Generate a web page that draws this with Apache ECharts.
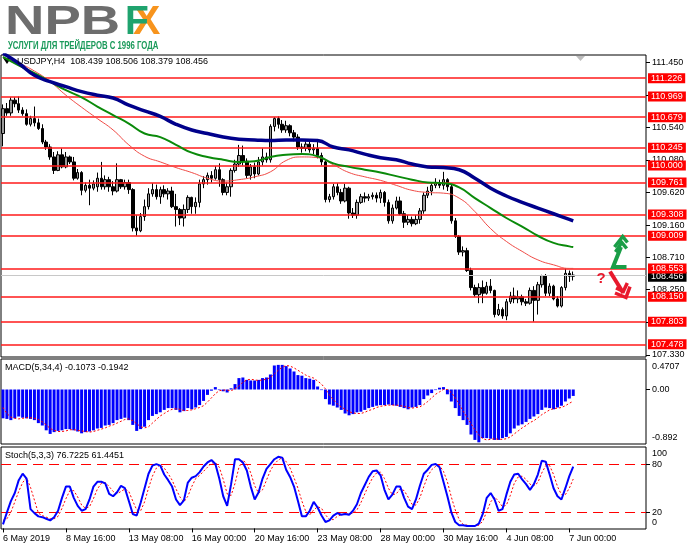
<!DOCTYPE html>
<html><head><meta charset="utf-8">
<script src="https://cdn.jsdelivr.net/npm/echarts@6/dist/echarts.min.js"></script>
<style>html,body{margin:0;padding:0;background:#fff}#c{width:691px;height:549px}</style>
</head><body><div id="c"></div>
<script>
// ---------- DATA ----------
const tickIdx = [0,16,32,48,64,80,96,112,128,144];
const tickLabels = ["6 May 2019","8 May 16:00","13 May 08:00","16 May 00:00","20 May 16:00","23 May 08:00","28 May 00:00","30 May 16:00","4 Jun 08:00","7 Jun 00:00"];
const priceTicks = [111.45,110.99,110.54,110.08,109.62,109.16,108.71,108.25,107.79,107.33];
const macdTicks = [0.4707,0,-0.892];
const stochTicks = [100,80,20,0];
const levels = [111.226,110.969,110.679,110.245,110.000,109.761,109.308,109.009,108.553,108.150,107.803,107.478];
const lastPrice = 108.456;
const stochLevels = [80,20];

// [open, high, low, close]
const ohlc = [
[110.45,110.86,110.27,110.80],[110.80,110.88,110.70,110.74],[110.74,110.96,110.70,110.92],[110.92,110.96,110.82,110.87],
[110.87,110.97,110.74,110.78],[110.78,110.82,110.70,110.73],[110.73,110.79,110.56,110.58],[110.58,110.70,110.55,110.66],
[110.66,110.83,110.55,110.60],[110.60,110.66,110.50,110.52],[110.52,110.58,110.30,110.33],[110.33,110.36,110.22,110.26],
[110.26,110.30,110.08,110.12],[110.12,110.19,109.88,109.93],[109.93,110.20,109.92,110.15],[110.15,110.24,109.96,109.98],
[109.98,110.19,109.96,110.12],[110.12,110.14,110.02,110.05],[110.05,110.12,109.79,109.82],[109.82,109.95,109.80,109.90],
[109.90,109.92,109.58,109.65],[109.65,109.76,109.62,109.72],[109.72,109.80,109.44,109.68],[109.68,109.79,109.65,109.74],
[109.70,109.90,109.63,109.82],[109.82,110.05,109.66,109.70],[109.70,109.86,109.66,109.80],[109.80,109.84,109.63,109.70],
[109.70,109.78,109.58,109.64],[109.64,110.03,109.62,109.80],[109.80,109.81,109.67,109.70],[109.70,109.80,109.66,109.76],
[109.76,109.80,109.60,109.66],[109.66,109.68,109.07,109.12],[109.12,109.30,109.01,109.08],[109.08,109.33,109.06,109.28],
[109.28,109.52,109.22,109.42],[109.42,109.68,109.38,109.60],[109.60,109.75,109.56,109.66],[109.66,109.73,109.52,109.56],
[109.56,109.70,109.46,109.66],[109.66,109.72,109.55,109.60],[109.60,109.68,109.52,109.64],[109.64,109.70,109.40,109.42],
[109.42,109.60,109.14,109.38],[109.38,109.40,109.16,109.26],[109.26,109.45,109.14,109.38],[109.38,109.58,109.33,109.55],
[109.55,109.56,109.32,109.42],[109.42,109.55,109.32,109.48],[109.48,109.80,109.41,109.74],[109.74,109.85,109.68,109.80],
[109.80,109.90,109.73,109.86],[109.86,109.92,109.76,109.82],[109.82,109.99,109.80,109.94],[109.94,110.03,109.70,109.80],
[109.80,109.82,109.58,109.62],[109.62,109.76,109.58,109.70],[109.70,109.96,109.56,109.93],[109.93,110.08,109.90,110.02],
[110.02,110.29,109.98,110.14],[110.14,110.28,110.00,110.06],[110.06,110.10,109.82,109.86],[109.86,110.02,109.80,109.98],
[109.98,110.04,109.82,109.88],[109.88,110.12,109.86,110.05],[110.05,110.24,110.00,110.12],[110.12,110.18,110.04,110.08],
[110.08,110.58,110.04,110.55],[110.55,110.68,110.48,110.66],[110.66,110.69,110.52,110.58],[110.58,110.64,110.46,110.50],
[110.50,110.63,110.46,110.56],[110.56,110.58,110.41,110.46],[110.46,110.50,110.34,110.40],[110.40,110.44,110.22,110.26],
[110.26,110.31,110.18,110.24],[110.24,110.34,110.20,110.30],[110.30,110.34,110.18,110.22],[110.22,110.30,110.16,110.24],
[110.24,110.33,110.10,110.14],[110.14,110.18,110.00,110.05],[110.05,110.07,109.48,109.52],[109.52,109.60,109.48,109.56],
[109.56,109.74,109.52,109.70],[109.70,109.75,109.58,109.62],[109.62,109.67,109.46,109.50],[109.50,109.74,109.48,109.68],
[109.68,109.70,109.25,109.33],[109.33,109.40,109.26,109.30],[109.30,109.52,109.25,109.48],[109.48,109.60,109.46,109.56],
[109.56,109.62,109.48,109.54],[109.54,109.60,109.50,109.56],[109.56,109.62,109.52,109.58],[109.58,109.62,109.48,109.54],
[109.54,109.66,109.47,109.62],[109.62,109.64,109.42,109.48],[109.48,109.52,109.18,109.22],[109.22,109.45,109.18,109.40],
[109.40,109.56,109.38,109.50],[109.50,109.56,109.30,109.32],[109.32,109.36,109.12,109.20],[109.20,109.30,109.16,109.24],
[109.24,109.28,109.14,109.18],[109.18,109.30,109.16,109.24],[109.24,109.40,109.18,109.36],[109.36,109.62,109.32,109.58],
[109.58,109.70,109.54,109.64],[109.64,109.76,109.58,109.72],[109.72,109.82,109.68,109.76],[109.76,109.80,109.68,109.72],
[109.72,109.91,109.66,109.80],[109.80,109.82,109.64,109.70],[109.70,109.74,109.18,109.22],[109.22,109.26,108.98,109.00],
[109.00,109.02,108.74,108.78],[108.78,108.86,108.72,108.80],[108.80,108.84,108.50,108.52],[108.52,108.56,108.24,108.28],
[108.28,108.32,108.15,108.18],[108.18,108.34,108.06,108.28],[108.28,108.38,108.06,108.20],[108.20,108.36,108.18,108.30],
[108.30,108.40,108.20,108.24],[108.24,108.25,107.86,107.90],[107.90,108.05,107.88,107.97],[107.97,108.00,107.84,107.88],
[107.88,108.12,107.82,108.08],[108.08,108.22,108.05,108.16],[108.16,108.28,108.06,108.12],[108.12,108.24,108.06,108.15],
[108.15,108.18,108.03,108.08],[108.08,108.12,108.02,108.06],[108.06,108.28,108.04,108.24],[108.24,108.30,107.80,108.10],
[108.10,108.36,107.90,108.32],[108.32,108.46,108.28,108.45],[108.45,108.47,108.16,108.20],[108.20,108.34,108.16,108.30],
[108.30,108.32,108.10,108.12],[108.12,108.16,108.00,108.02],[108.02,108.30,108.00,108.28],[108.28,108.55,108.24,108.48],
[108.48,108.52,108.36,108.44],[108.439,108.506,108.379,108.456]
];

// moving averages read at every 4th bar
const maIdx   = [0,4,8,12,16,20,24,28,32,36,40,44,48,52,56,60,64,68,72,76,80,84,88,92,96,100,104,108,112,116,120,124,128,132,136,140,144,145];
const maBlue  = [111.58,111.44,111.27,111.18,111.11,111.04,110.99,110.95,110.85,110.77,110.69,110.58,110.50,110.45,110.40,110.37,110.36,110.35,110.36,110.36,110.35,110.26,110.22,110.16,110.11,110.08,110.02,109.98,109.97,109.94,109.82,109.68,109.57,109.48,109.40,109.32,109.24,109.22];
const maGreen = [111.53,111.41,111.30,111.18,111.06,110.96,110.83,110.71,110.59,110.45,110.40,110.29,110.18,110.12,110.08,110.05,110.06,110.12,110.15,110.16,110.13,110.03,109.98,109.94,109.90,109.85,109.80,109.76,109.75,109.69,109.54,109.40,109.26,109.14,109.01,108.91,108.86,108.85];
const maRed   = [111.52,111.44,111.33,111.18,110.99,110.82,110.66,110.50,110.29,110.13,110.05,109.97,109.90,109.82,109.78,109.80,109.84,109.91,110.07,110.12,110.11,110.01,109.90,109.84,109.79,109.72,109.65,109.62,109.61,109.54,109.35,109.11,108.93,108.79,108.67,108.60,108.55,108.55];

const macdHist = [
-0.48,-0.49,-0.51,-0.48,-0.45,-0.47,-0.48,-0.49,-0.51,-0.56,-0.60,-0.68,-0.74,-0.71,-0.69,-0.68,-0.66,-0.66,-0.68,-0.70,
-0.73,-0.71,-0.70,-0.68,-0.65,-0.64,-0.60,-0.59,-0.56,-0.51,-0.49,-0.47,-0.51,-0.59,-0.69,-0.66,-0.62,-0.51,-0.44,-0.41,
-0.38,-0.34,-0.31,-0.31,-0.34,-0.38,-0.36,-0.31,-0.33,-0.30,-0.26,-0.19,-0.09,-0.02,0.04,-0.01,-0.03,-0.05,0.02,0.09,
0.19,0.20,0.16,0.15,0.15,0.16,0.19,0.20,0.25,0.40,0.41,0.41,0.39,0.35,0.30,0.24,0.23,0.19,0.18,0.16,
0.05,-0.01,-0.16,-0.25,-0.27,-0.30,-0.34,-0.40,-0.43,-0.41,-0.38,-0.37,-0.34,-0.31,-0.29,-0.27,-0.26,-0.26,-0.25,-0.26,
-0.27,-0.29,-0.31,-0.33,-0.30,-0.29,-0.26,-0.16,-0.10,-0.06,-0.01,0.03,0.04,-0.08,-0.20,-0.31,-0.44,-0.51,-0.59,-0.75,
-0.84,-0.88,-0.81,-0.81,-0.82,-0.84,-0.84,-0.81,-0.79,-0.73,-0.65,-0.60,-0.58,-0.54,-0.49,-0.45,-0.41,-0.34,-0.30,-0.31,
-0.33,-0.30,-0.27,-0.20,-0.15,-0.1073];
const macdSignal = [
-0.30,-0.40,-0.46,-0.48,-0.49,-0.48,-0.47,-0.47,-0.48,-0.50,-0.54,-0.59,-0.65,-0.68,-0.70,-0.70,-0.69,-0.67,-0.67,-0.68,
-0.69,-0.70,-0.71,-0.70,-0.68,-0.66,-0.64,-0.61,-0.59,-0.56,-0.53,-0.50,-0.49,-0.52,-0.57,-0.62,-0.64,-0.62,-0.56,-0.50,
-0.44,-0.40,-0.36,-0.33,-0.32,-0.33,-0.35,-0.35,-0.34,-0.32,-0.30,-0.27,-0.21,-0.14,-0.07,-0.02,-0.01,-0.01,-0.02,0.01,
0.06,0.12,0.16,0.17,0.16,0.15,0.16,0.17,0.20,0.26,0.32,0.37,0.40,0.39,0.36,0.32,0.28,0.24,0.21,0.19,
0.14,0.09,0.01,-0.09,-0.17,-0.24,-0.29,-0.33,-0.37,-0.39,-0.40,-0.40,-0.38,-0.35,-0.33,-0.30,-0.28,-0.27,-0.26,-0.26,
-0.26,-0.27,-0.28,-0.30,-0.31,-0.30,-0.29,-0.25,-0.20,-0.14,-0.08,-0.04,0.00,0.00,-0.05,-0.14,-0.24,-0.36,-0.46,-0.57,
-0.67,-0.76,-0.82,-0.84,-0.83,-0.82,-0.83,-0.83,-0.82,-0.79,-0.74,-0.69,-0.64,-0.60,-0.55,-0.52,-0.47,-0.42,-0.38,-0.34,
-0.32,-0.31,-0.30,-0.27,-0.23,-0.1942];

const stochK = [
5,20,34,44,60,68,62,24,19,15,14,12,10,14,22,38,52,52,38,28,
22,24,36,52,58,58,56,43,40,45,53,50,34,18,16,32,50,68,78,80,
78,67,60,52,36,29,35,57,63,65,70,77,82,85,80,62,40,28,55,86,
86,82,72,52,36,45,62,74,80,86,89,88,73,64,52,34,15,15,22,33,
26,16,8,10,16,19,17,18,17,22,30,44,54,64,71,72,66,48,36,42,
52,52,38,27,24,36,53,68,73,79,80,76,58,40,20,8,4,4,3,3,
3,6,18,38,44,36,22,24,42,58,67,68,61,55,48,55,67,84,83,67,
50,40,36,50,65,76.7225];
const stochD = [
10,12,20,33,46,57,63,51,35,19,16,14,12,12,15,25,37,47,47,39,
29,25,27,37,49,56,57,52,46,43,46,49,46,34,23,22,33,50,65,75,
79,75,68,60,49,39,33,40,52,62,66,71,76,81,82,76,61,43,41,56,
76,85,80,69,53,44,48,60,72,80,85,88,83,75,63,50,34,21,17,23,
27,25,17,11,11,15,17,18,18,19,23,32,43,54,63,69,70,62,50,42,
43,49,47,39,30,29,38,52,65,73,77,78,71,58,39,23,11,5,4,3,
3,4,9,21,33,39,34,27,29,41,56,64,65,61,55,53,57,69,78,78,
67,52,42,42,50,61.4451];

// ---------- BUILD ----------
const FONT = '"Liberation Sans", Arial, sans-serif';
const NCAT = 164;
const mon = ['Jan','Feb','Mar','Apr','May','Jun','Jul','Aug','Sep','Oct','Nov','Dec'];
const cats = [];
for (let i = 0; i < NCAT; i++) {
  const d = Math.floor(i / 6), h = (i % 6) * 4;
  const off = Math.floor(d / 5) * 7 + (d % 5);
  const dt = new Date(Date.UTC(2019, 4, 6 + off));
  cats.push(dt.getUTCDate() + ' ' + mon[dt.getUTCMonth()] + ' ' + String(h).padStart(2, '0') + ':00');
}
const labelMap = {};
tickIdx.forEach((ix, k) => labelMap[ix] = tickLabels[k]);
const isTick = (ix) => labelMap[ix] !== undefined;

const candleData = ohlc.map(r => [r[0], r[3], r[2], r[1]]);
const pairs = (vals) => vals.map((v, k) => [maIdx[k], v]);

const axLabel = {fontFamily: FONT, fontSize: 9, color: '#000'};
const GREEN = '#1a9e47', RED = '#e8192c';
const boxLabel = (bg, dy) => ({show: true, position: 'end', formatter: '{b}', distance: 2, backgroundColor: bg, color: '#fff',
                           padding: [0, 3, 0, 3], lineHeight: 10, fontSize: 9, fontFamily: FONT, offset: [0, dy]});

const chart = echarts.init(document.getElementById('c'), null, {renderer: 'canvas'});
const option = {
  animation: false,
  backgroundColor: '#fff',
  grid: [
    {left: 1, right: 45, top: 55, height: 302, show: true, borderColor: '#000', borderWidth: 1, backgroundColor: '#fff'},
    {left: 1, right: 45, top: 359, height: 85, show: true, borderColor: '#000', borderWidth: 1, backgroundColor: '#fff'},
    {left: 1, right: 45, top: 447, height: 82, show: true, borderColor: '#000', borderWidth: 1, backgroundColor: '#fff'}
  ],
  xAxis: [0, 1, 2].map(g => ({
    type: 'category', gridIndex: g, data: cats, boundaryGap: true,
    axisLine: {show: false},
    splitLine: {show: false},
    axisTick: g === 2 ? {show: true, alignWithLabel: true, interval: (ix) => isTick(ix), length: 4, lineStyle: {color: '#000'}} : {show: false},
    axisLabel: g === 2 ? Object.assign({show: true, interval: (ix) => isTick(ix), formatter: (v, ix) => labelMap[ix] || '', align: 'left', margin: 5}, axLabel) : {show: false}
  })),
  yAxis: [
    {gridIndex: 0, position: 'right', min: 107.302, max: 111.556, splitLine: {show: false}, axisLine: {show: false},
     axisTick: {show: true, length: 4, customValues: priceTicks, lineStyle: {color: '#000'}},
     axisLabel: Object.assign({customValues: priceTicks, formatter: v => v.toFixed(3), margin: 6}, axLabel)},
    {gridIndex: 1, position: 'right', min: -0.908, max: 0.508, splitLine: {show: false}, axisLine: {show: false},
     axisTick: {show: true, length: 4, customValues: [0], lineStyle: {color: '#000'}},
     axisLabel: Object.assign({customValues: macdTicks, margin: 6,
       formatter: v => v === 0 ? '{m|0.00}' : (v > 0 ? '{t|' + v + '}' : '{b|' + v + '}'),
       rich: {t: {padding: [11, 0, 0, 0], fontSize: 9, fontFamily: FONT, color: '#000'},
              b: {padding: [0, 0, 11, 0], fontSize: 9, fontFamily: FONT, color: '#000'},
              m: {fontSize: 9, fontFamily: FONT, color: '#000'}}}, axLabel)},
    {gridIndex: 2, position: 'right', min: -0.7, max: 101.2, splitLine: {show: false}, axisLine: {show: false},
     axisTick: {show: true, length: 4, customValues: [80, 20], lineStyle: {color: '#000'}},
     axisLabel: Object.assign({customValues: stochTicks, margin: 6,
       formatter: v => v === 100 ? '{t|100}' : (v === 0 ? '{b|0}' : '{m|' + v + '}'),
       rich: {t: {padding: [11, 0, 0, 0], fontSize: 9, fontFamily: FONT, color: '#000'},
              b: {padding: [0, 0, 11, 0], fontSize: 9, fontFamily: FONT, color: '#000'},
              m: {fontSize: 9, fontFamily: FONT, color: '#000'}}}, axLabel)}
  ],
  series: [
    {type: 'candlestick', xAxisIndex: 0, yAxisIndex: 0, data: candleData, barWidth: 3, z: 3,
     itemStyle: {color: '#9a9a9a', color0: '#000', borderColor: '#000', borderColor0: '#000', borderWidth: 1},
     markLine: {silent: true, symbol: ['none', 'none'], animation: false, z: 4,
       data: [{yAxis: lastPrice, name: lastPrice.toFixed(3),
               lineStyle: {color: '#c8c8c8', width: 1, type: 'solid'}, label: boxLabel('#000', 2)}]
         .concat(levels.map(v => ({yAxis: v, name: v.toFixed(3),
               lineStyle: {color: '#ff1a1a', width: 1.5, type: 'solid'}, label: boxLabel('#ff0000', 0)})))
     }},
    {type: 'line', xAxisIndex: 0, yAxisIndex: 0, data: pairs(maRed), smooth: true, symbol: 'none', z: 5,
     lineStyle: {color: '#f04a45', width: 1}},
    {type: 'line', xAxisIndex: 0, yAxisIndex: 0, data: pairs(maGreen), smooth: true, symbol: 'none', z: 5,
     lineStyle: {color: '#0a8a0a', width: 2}},
    {type: 'line', xAxisIndex: 0, yAxisIndex: 0, data: pairs(maBlue), smooth: true, symbol: 'none', z: 5,
     lineStyle: {color: '#00008b', width: 3.5}},
    {type: 'bar', xAxisIndex: 1, yAxisIndex: 1, data: macdHist, barWidth: 3, itemStyle: {color: '#0000ff'}},
    {type: 'line', xAxisIndex: 1, yAxisIndex: 1, data: macdSignal, symbol: 'none', z: 5,
     lineStyle: {color: '#ff0000', width: 1, type: [2, 2]}},
    {type: 'line', xAxisIndex: 2, yAxisIndex: 2, data: stochD, symbol: 'none', z: 4,
     lineStyle: {color: '#ff0000', width: 1, type: [2, 2]},
     markLine: {silent: true, symbol: ['none', 'none'], animation: false, label: {show: false},
       lineStyle: {color: '#ff0000', width: 1, type: [10, 6]},
       data: stochLevels.map(v => ({yAxis: v}))}},
    {type: 'line', xAxisIndex: 2, yAxisIndex: 2, data: stochK, symbol: 'none', z: 5,
     lineStyle: {color: '#0000ff', width: 2}}
  ],
  graphic: [
    // logo
    {type: 'text', x: 5, y: 2, scaleX: 1.33, style: {text: 'NPB', font: 'bold 41px ' + FONT, fill: '#6d6d6d'}},
    {type: 'text', x: 133, y: 2, scaleX: 1.0, style: {text: 'X', font: 'bold 41px ' + FONT, fill: '#f7941d'}},
    {type: 'text', x: 125, y: 2, scaleX: 0.95, style: {text: 'F', font: 'bold 41px ' + FONT, fill: '#1fa36e'}},
    {type: 'text', x: 8, y: 41, scaleX: 0.74, style: {text: 'УСЛУГИ ДЛЯ ТРЕЙДЕРОВ С 1996 ГОДА', font: 'bold 10.5px ' + FONT, fill: '#1a9a5a'}},
    // headers
    {type: 'polygon', shape: {points: [[3, 58], [11, 58], [7, 64]]}, style: {fill: '#000'}},
    {type: 'polygon', shape: {points: [[576, 56], [585, 56], [580.5, 61]]}, style: {fill: '#bdbdbd'}},
    {type: 'text', x: 17, y: 62, style: {text: 'USDJPY,H4  108.439 108.506 108.379 108.456', font: '9px ' + FONT, fill: '#000', verticalAlign: 'middle'}, z: 10},
    {type: 'text', x: 5, y: 368, style: {text: 'MACD(5,34,4) -0.1073 -0.1942', font: '9px ' + FONT, fill: '#000', verticalAlign: 'middle'}, z: 10},
    {type: 'text', x: 5, y: 456, style: {text: 'Stoch(5,3,3) 76.7225 61.4451', font: '9px ' + FONT, fill: '#000', verticalAlign: 'middle'}, z: 10},
    // scenario arrows
    {type: 'polyline', shape: {points: [[626.5, 267], [613, 267], [621, 247]]}, style: {stroke: GREEN, lineWidth: 4, lineJoin: 'miter'}, z: 10},
    {type: 'polyline', shape: {points: [[614.5, 247], [622.7, 236.5], [627.5, 242.5]]}, style: {stroke: GREEN, lineWidth: 3.5}, z: 10},
    {type: 'polyline', shape: {points: [[615.5, 252], [621.7, 242.5], [626.7, 248.5]]}, style: {stroke: GREEN, lineWidth: 3.5}, z: 10},
    {type: 'polyline', shape: {points: [[610, 271.5], [623.3, 293]]}, style: {stroke: RED, lineWidth: 4}, z: 10},
    {type: 'polyline', shape: {points: [[615, 293], [626, 297.5], [630, 286.7]]}, style: {stroke: RED, lineWidth: 3.5}, z: 10},
    {type: 'polyline', shape: {points: [[616, 288], [623.3, 291.5], [627.3, 283]]}, style: {stroke: RED, lineWidth: 3.5}, z: 10},
    {type: 'text', x: 601, y: 279, style: {text: '?', font: 'bold 15px ' + FONT, fill: RED, align: 'center', verticalAlign: 'middle'}, z: 10}
  ]
};
chart.setOption(option);
</script>
</body></html>
